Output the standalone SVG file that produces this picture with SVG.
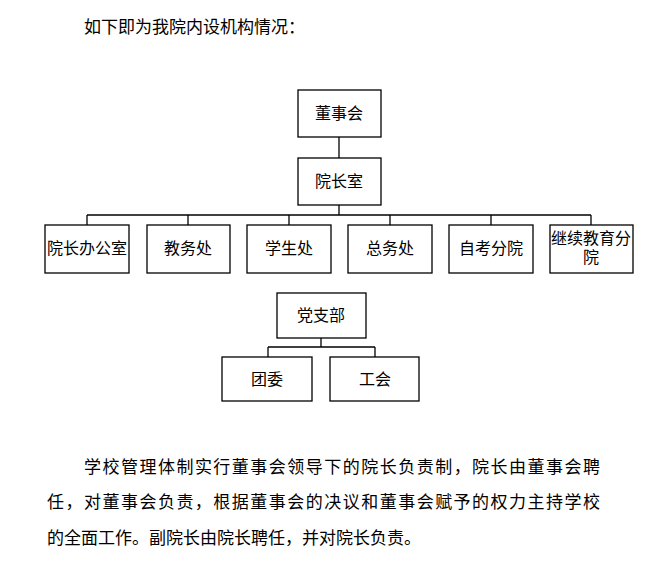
<svg xmlns="http://www.w3.org/2000/svg" width="667" height="580" viewBox="0 0 667 580">
<style>
.b{fill:#fff;stroke:#000;stroke-width:1.3}
.t{font-family:"Liberation Serif","Noto Sans CJK SC",serif;font-size:16px;text-anchor:middle;fill:#000}
.p{font-family:"Liberation Serif","Noto Sans CJK SC",serif;font-size:17px;fill:#000}
#c line{stroke:#000;stroke-width:1.3}
</style>
<rect width="667" height="580" fill="#fff"/>
<text class="p" x="84" y="33">如下即为我院内设机构情况：</text>
<g id="c">
<line x1="339" y1="137" x2="339" y2="158"/>
<line x1="339" y1="205" x2="339" y2="215"/>
<line x1="87" y1="215" x2="591" y2="215"/>
<line x1="87" y1="215" x2="87" y2="225"/>
<line x1="188" y1="215" x2="188" y2="225"/>
<line x1="289" y1="215" x2="289" y2="225"/>
<line x1="390" y1="215" x2="390" y2="225"/>
<line x1="491" y1="215" x2="491" y2="225"/>
<line x1="591" y1="215" x2="591" y2="225"/>
<line x1="321" y1="338" x2="321" y2="347"/>
<line x1="268" y1="347" x2="375" y2="347"/>
<line x1="268" y1="347" x2="268" y2="357"/>
<line x1="375" y1="347" x2="375" y2="357"/>
</g>
<g id="n1"><rect class="b" x="298" y="90" width="83" height="47"/><text class="t" x="339" y="119">董事会</text></g>
<g id="n2"><rect class="b" x="298" y="158" width="83" height="47"/><text class="t" x="339" y="187">院长室</text></g>
<g id="n3"><rect class="b" x="45" y="225" width="84" height="48"/><text class="t" x="87" y="254">院长办公室</text></g>
<g id="n4"><rect class="b" x="147" y="225" width="83" height="48"/><text class="t" x="188" y="254">教务处</text></g>
<g id="n5"><rect class="b" x="247" y="225" width="84" height="48"/><text class="t" x="289" y="254">学生处</text></g>
<g id="n6"><rect class="b" x="348" y="225" width="84" height="48"/><text class="t" x="390" y="254">总务处</text></g>
<g id="n7"><rect class="b" x="449" y="225" width="84" height="48"/><text class="t" x="491" y="254">自考分院</text></g>
<g id="n8"><rect class="b" x="550" y="225" width="83" height="48"/><text class="t" x="591" y="244">继续教育分</text><text class="t" x="591" y="263">院</text></g>
<g id="n9"><rect class="b" x="277" y="293" width="89" height="45"/><text class="t" x="321" y="321">党支部</text></g>
<g id="n10"><rect class="b" x="222" y="357" width="90" height="44"/><text class="t" x="267" y="385">团委</text></g>
<g id="n11"><rect class="b" x="330" y="357" width="89" height="44"/><text class="t" x="375" y="385">工会</text></g>
<text class="p" x="84" y="473" textLength="516">学校管理体制实行董事会领导下的院长负责制，院长由董事会聘</text>
<text class="p" x="47" y="508" textLength="553">任，对董事会负责，根据董事会的决议和董事会赋予的权力主持学校</text>
<text class="p" x="47" y="544">的全面工作。副院长由院长聘任，并对院长负责。</text>
</svg>
